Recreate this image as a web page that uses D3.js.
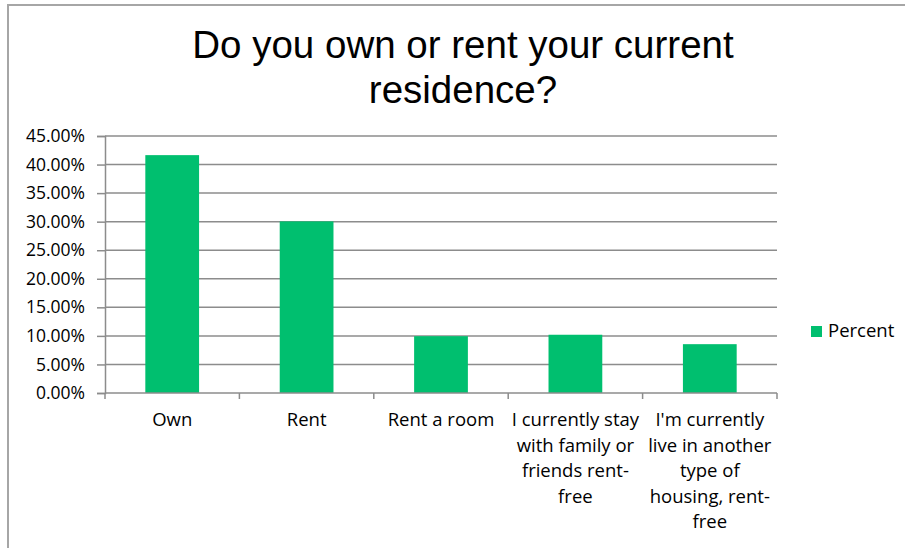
<!DOCTYPE html>
<html>
<head>
<meta charset="utf-8">
<script src="https://cdn.jsdelivr.net/npm/d3@7"></script>
<style>
  body { margin: 0; background: #fff; }
  svg { display: block; }
</style>
</head>
<body>
<div id="chart"></div>
<script>
// chart data
var categories = ["Own", "Rent", "Rent a room", "Stay rent-free", "Other rent-free"];
var labelLines = [
  ["Own"],
  ["Rent"],
  ["Rent a room"],
  ["I currently stay", "with family or", "friends rent-", "free"],
  ["I'm currently", "live in another", "type of", "housing, rent-", "free"]
];
var percent = [0.4165, 0.3005, 0.0995, 0.102, 0.0855];
var yTicks = [0, 0.05, 0.10, 0.15, 0.20, 0.25, 0.30, 0.35, 0.40, 0.45];
var titleLines = ["Do you own or rent your current", "residence?"];
var seriesName = "Percent";

var W = 905, H = 548;
var margin = {top: 136, right: 128, bottom: 155, left: 105},
    width = W - margin.left - margin.right,
    height = H - margin.top - margin.bottom;

var font = "'Open Sans', sans-serif";
var gridColor = "#8c8c8c";
var barColor = "#00bf6f";

var svg = d3.select("#chart").append("svg")
    .attr("width", W)
    .attr("height", H);

// outer frame (only top and left visible)
svg.append("path")
    .attr("d", "M8,548 V5 H905")
    .attr("fill", "none")
    .attr("stroke", "#a6a6a6")
    .attr("stroke-width", 2);

// title
svg.append("g").selectAll("text")
    .data(titleLines)
    .enter().append("text")
    .attr("x", 463)
    .attr("y", function(d, i) { return 58 + i * 45; })
    .attr("text-anchor", "middle")
    .style("font-family", "'Liberation Sans', Arial, sans-serif")
    .style("font-size", "38.5px")
    .style("fill", "#000")
    .text(function(d) { return d; });

var g = svg.append("g")
    .attr("transform", "translate(" + margin.left + "," + margin.top + ")");

var x = d3.scaleBand().domain(categories).range([0, width]).paddingInner(0.6).paddingOuter(0.3);
var xBand = d3.scaleBand().domain(categories).range([0, width]);
var y = d3.scaleLinear().domain([0, 0.45]).range([height, 0]);

// gridlines
g.append("g").selectAll("line")
    .data(yTicks.slice(1))
    .enter().append("line")
    .attr("x1", 0).attr("x2", width)
    .attr("y1", function(d) { return y(d); })
    .attr("y2", function(d) { return y(d); })
    .attr("stroke", gridColor)
    .attr("stroke-width", 1.5);

// bars
g.append("g").selectAll("rect")
    .data(percent)
    .enter().append("rect")
    .attr("x", function(d, i) { return x(categories[i]); })
    .attr("y", function(d) { return y(d); })
    .attr("width", x.bandwidth())
    .attr("height", function(d) { return height - y(d); })
    .attr("fill", barColor);

// y axis
var yAxis = g.append("g")
    .call(d3.axisLeft(y).tickValues(yTicks).tickFormat(d3.format(".2%")).tickSize(8).tickPadding(12));
yAxis.select(".domain").attr("stroke", gridColor).attr("stroke-width", 1.5);
yAxis.selectAll(".tick line").attr("stroke", gridColor).attr("stroke-width", 1.5);
yAxis.selectAll(".tick text")
    .style("font-family", font)
    .style("font-size", "17.5px")
    .style("fill", "#000");

// x axis baseline and ticks at category boundaries
g.append("line")
    .attr("x1", 0).attr("x2", width)
    .attr("y1", height).attr("y2", height)
    .attr("stroke", gridColor).attr("stroke-width", 1.5);
var bounds = categories.map(function(c) { return xBand(c); }).concat([width]);
g.append("g").selectAll("line")
    .data(bounds)
    .enter().append("line")
    .attr("x1", function(d) { return d; }).attr("x2", function(d) { return d; })
    .attr("y1", height).attr("y2", height + 6)
    .attr("stroke", gridColor).attr("stroke-width", 1.5);

// x labels
var xl = g.append("g").selectAll("text")
    .data(categories)
    .enter().append("text")
    .attr("text-anchor", "middle")
    .attr("transform", function(d) { return "translate(" + (xBand(d) + xBand.bandwidth() / 2) + "," + (height + 33) + ")"; })
    .style("font-family", font)
    .style("font-size", "18.5px")
    .style("fill", "#000");
xl.selectAll("tspan")
    .data(function(d, i) { return labelLines[i]; })
    .enter().append("tspan")
    .attr("x", 0)
    .attr("dy", function(d, i) { return i === 0 ? 0 : 25.5; })
    .text(function(d) { return d; });

// legend
var legend = svg.append("g").attr("transform", "translate(811,326)");
legend.append("rect")
    .attr("width", 11).attr("height", 11)
    .attr("fill", barColor);
legend.append("text")
    .attr("x", 17).attr("y", 11)
    .style("font-family", font)
    .style("font-size", "18.5px")
    .style("fill", "#000")
    .text(seriesName);
</script>
</body>
</html>
